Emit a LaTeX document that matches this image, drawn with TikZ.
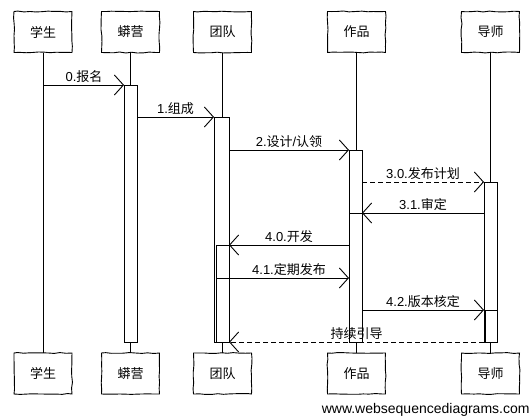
\documentclass[tikz,border=0pt]{standalone}
\usepackage{fontspec}
\setmainfont{Liberation Sans}
\newfontfamily\cjk{Noto Sans CJK SC}
\usetikzlibrary{arrows.meta,decorations.pathmorphing}
\begin{document}
\pgfmathsetseed{7}
\begin{tikzpicture}[x=1pt,y=-1pt,
  line width=0.9pt,
  sketch/.style={decorate,decoration={random steps,segment length=6pt,amplitude=0.5pt}},
  part/.style={draw,sketch,fill=white,minimum width=58pt,minimum height=41pt,inner sep=0pt,font=\fontsize{13}{15}\cjk},
  actbox/.style={draw,fill=white},
  msg/.style={-{Straight Barb[length=9pt,width=20pt,line width=0.9pt]}},
  ret/.style={msg,dash pattern=on 5pt off 3pt},
  lbl/.style={above,inner sep=2pt,font=\fontsize{13}{15}\selectfont},
  lifeline/.style={line width=0.8pt}]
\useasboundingbox (0,0) rectangle (530,417);

% top participants
\node[part] (xs) at (43,32) {学生};
\node[part] (my) at (130.5,32) {蟒营};
\node[part] (td) at (222.5,32) {团队};
\node[part] (zp) at (356.5,32) {作品};
\node[part] (ds) at (490.5,32) {导师};
% bottom participants
\node[part] (xsb) at (43,373.5) {学生};
\node[part] (myb) at (130.5,373.5) {蟒营};
\node[part] (tdb) at (222.5,373.5) {团队};
\node[part] (zpb) at (356.5,373.5) {作品};
\node[part] (dsb) at (490.5,373.5) {导师};

% lifelines
\draw[lifeline] (xs.south) -- (xsb.north);
\draw[lifeline] (my.south) -- (myb.north);
\draw[lifeline] (td.south) -- (tdb.north);
\draw[lifeline] (zp.south) -- (zpb.north);
\draw[lifeline] (ds.south) -- (dsb.north);

% activations
\draw[actbox] (124,85) rectangle (137,342);
\draw[actbox] (214,117) rectangle (229,342);
\draw[actbox] (216,245) rectangle (229,342);
\draw (216,278) -- (229,278);
\draw[actbox] (349,150) rectangle (362,342);
\draw (349,213) -- (362,213);
\draw[actbox] (484,182) rectangle (497,342);
\draw[actbox] (485,310) rectangle (497,342);

% message end points
\coordinate (m0a) at (44,85);   \coordinate (m0b) at (124,85);
\coordinate (m1a) at (137,117); \coordinate (m1b) at (214,117);
\coordinate (m2a) at (229,150); \coordinate (m2b) at (349,150);
\coordinate (m3a) at (362,182); \coordinate (m3b) at (484,182);
\coordinate (m4a) at (484,213); \coordinate (m4b) at (362,213);
\coordinate (m5a) at (349,245); \coordinate (m5b) at (229,245);
\coordinate (m6a) at (229,278); \coordinate (m6b) at (349,278);
\coordinate (m7a) at (362,310); \coordinate (m7b) at (484,310);
\coordinate (m8a) at (484,342); \coordinate (m8b) at (229,342);

\draw[msg] (m0a) -- node[lbl] (l0) {0.{\cjk 报名}} (m0b);
\draw[msg] (m1a) -- node[lbl] (l1) {1.{\cjk 组成}} (m1b);
\draw[msg] (m2a) -- node[lbl] (l2) {2.{\cjk 设计}/{\cjk 认领}} (m2b);
\draw[ret] (m3a) -- node[lbl] (l3) {3.0.{\cjk 发布计划}} (m3b);
\draw[msg] (m4a) -- node[lbl] (l4) {3.1.{\cjk 审定}} (m4b);
\draw[msg] (m5a) -- node[lbl] (l5) {4.0.{\cjk 开发}} (m5b);
\draw[msg] (m6a) -- node[lbl] (l6) {4.1.{\cjk 定期发布}} (m6b);
\draw[msg] (m7a) -- node[lbl] (l7) {4.2.{\cjk 版本核定}} (m7b);
\draw[ret] (m8a) -- node[lbl] (l8) {\cjk 持续引导} (m8b);

\node[anchor=east,inner sep=0pt,font=\fontsize{14}{16}\selectfont] (wm) at (530,410) {www.websequencediagrams.com};
\end{tikzpicture}
\end{document}
